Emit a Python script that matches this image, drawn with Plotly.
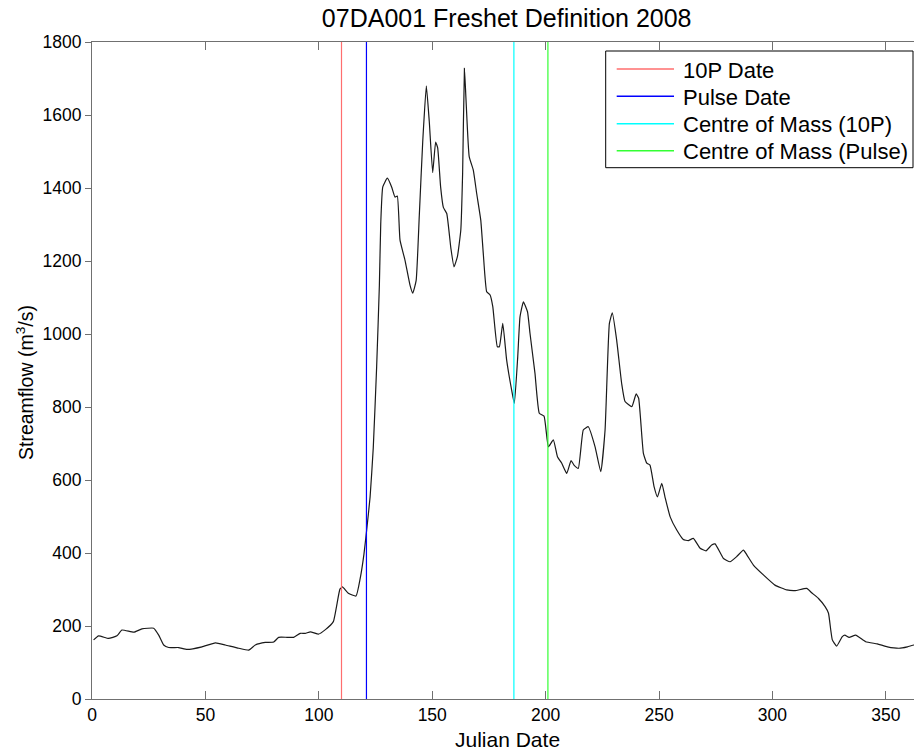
import plotly.graph_objects as go

# Daily streamflow at 07DA001 through 2008 (Julian day, m^3/s)
julian_day = [
    0.7, 2.9, 7.3, 11.0, 13.2, 18.4, 22.0, 27.2, 29.4, 31.6, 33.8, 38.2, 41.9,
    48.5, 54.4, 58.8, 64.7, 69.1, 72.0, 76.4, 80.1, 82.3, 86.0, 88.9, 91.8,
    94.0, 96.3, 100.0, 102.9, 106.4, 109.3, 110.4, 113.0, 116.4, 118.2, 119.9,
    121.1, 122.6, 124.0, 125.5, 126.7, 127.3, 128.2, 130.2, 132.1, 133.6,
    134.6, 135.8, 138.0, 140.2, 141.4, 142.9, 144.3, 145.8, 147.4, 148.7,
    150.2, 151.5, 152.4, 153.7, 154.9, 156.4, 158.2, 159.6, 161.1, 162.6,
    163.4, 164.2, 164.9, 166.3, 168.1, 169.6, 171.4, 172.5, 174.0, 175.5,
    176.7, 178.7, 179.6, 181.1, 182.8, 185.0, 186.2, 187.7, 188.7, 190.2,
    192.0, 193.1, 195.3, 197.2, 199.3, 201.2, 203.4, 205.2, 207.1, 209.3,
    211.2, 212.5, 214.4, 216.6, 218.8, 221.8, 224.3, 226.2, 228.1, 229.4,
    231.3, 233.5, 235.0, 238.0, 239.9, 241.0, 243.1, 244.6, 246.0, 247.8,
    249.3, 251.2, 252.6, 254.9, 257.8, 260.7, 262.9, 265.1, 268.1, 270.7,
    273.2, 274.7, 278.4, 281.3, 284.2, 287.2, 288.7, 291.6, 296.0, 301.1,
    306.3, 310.0, 315.1, 317.3, 320.2, 323.2, 324.7, 325.7, 326.4, 328.3,
    330.8, 331.9, 333.8, 336.7, 341.1, 346.2, 350.7, 355.8, 359.5, 362.4,
    366.0,
]
streamflow = [
    162, 173, 166, 173, 189, 183, 192, 194, 175, 148, 141, 141, 136,
    143, 154, 148, 139, 134, 148, 155, 156, 169, 169, 169, 180,
    180, 184, 178, 190, 212, 301, 307, 290, 282, 329, 397,
    463, 553, 688, 911, 1134, 1302, 1403, 1427, 1403, 1375,
    1378, 1257, 1202, 1134, 1112, 1146, 1325, 1526, 1680, 1582,
    1442, 1526, 1510, 1403, 1347, 1330, 1236, 1184, 1212, 1285,
    1441, 1728, 1641, 1486, 1449, 1385, 1312, 1221, 1116, 1107,
    1075, 965, 965, 1029, 929, 847, 810, 938, 1047, 1088,
    1061, 1002, 892, 783, 775, 691, 710, 664, 646, 618,
    653, 641, 632, 737, 746, 691, 623, 737, 1029, 1058,
    984, 865, 815, 801, 836, 824, 673, 646, 641, 582,
    554, 591, 554, 499, 463, 437, 434, 440, 413, 406,
    422, 425, 385, 376, 390, 408, 395, 367, 340, 312,
    299, 297, 303, 291, 276, 253, 235, 189, 162, 145,
    171, 175, 169, 175, 157, 151, 143, 139, 143, 148,
    150,
]

# Freshet markers (Julian day)
marker_names = ["10P Date", "Pulse Date", "Centre of Mass (10P)", "Centre of Mass (Pulse)"]
marker_days = [110, 121, 186, 201]
marker_colors = ["#ff6e6e", "#0000ff", "#00ffff", "#33ff33"]

y_limits = [0, 1800]
x_limits = [0, 362.4]
x_ticks = [0, 50, 100, 150, 200, 250, 300, 350]
y_ticks = [0, 200, 400, 600, 800, 1000, 1200, 1400, 1600, 1800]

FONT = "Liberation Sans, Arial, sans-serif"
AXIS_COLOR = "#707070"

W, H = 914, 750
PLOT_L, PLOT_R, PLOT_T, PLOT_B = 92, 914, 42, 699


def px_x(px):
    """Horizontal pixel position -> paper fraction."""
    return (px - PLOT_L) / (PLOT_R - PLOT_L)


def px_y(py):
    """Vertical pixel position (from top) -> paper fraction."""
    return (PLOT_B - py) / (PLOT_B - PLOT_T)


fig = go.Figure()

fig.add_trace(go.Scatter(
    x=julian_day, y=streamflow, mode="lines", name="Streamflow",
    line=dict(color="#1a1a1a", width=1.2, shape="spline", smoothing=0.4),
    showlegend=False, hoverinfo="x+y",
))

for name, day, color in zip(marker_names, marker_days, marker_colors):
    fig.add_trace(go.Scatter(
        x=[day, day], y=y_limits, mode="lines", name=name,
        line=dict(color=color, width=1.2), showlegend=False,
    ))

# Boxed key in the upper right, MATLAB style
key_left, key_right, key_top, key_bottom = 605.7, 913, 51, 167.7
key_rows = [69, 96.3, 123.7, 150.7]
key_line = (616.7, 674)
key_text_x = 680.7

shapes = [dict(
    type="rect", xref="paper", yref="paper",
    x0=px_x(key_left), x1=px_x(key_right), y0=px_y(key_bottom), y1=px_y(key_top),
    line=dict(color="black", width=1), fillcolor="white", layer="above",
)]
annotations = []
for name, color, row in zip(marker_names, marker_colors, key_rows):
    shapes.append(dict(
        type="line", xref="paper", yref="paper",
        x0=px_x(key_line[0]), x1=px_x(key_line[1]), y0=px_y(row), y1=px_y(row),
        line=dict(color=color, width=1.5), layer="above",
    ))
    annotations.append(dict(
        text=name, xref="paper", yref="paper",
        x=px_x(key_text_x), y=px_y(row + 1),
        xanchor="left", yanchor="middle", showarrow=False,
        font=dict(family=FONT, size=22, color="black"),
    ))

annotations += [
    dict(
        text="Julian Date", xref="paper", yref="paper",
        x=px_x(507), y=px_y(739),
        xanchor="center", yanchor="middle", showarrow=False,
        font=dict(family=FONT, size=21, color="black"),
    ),
    dict(
        text="Streamflow (m<sup>3</sup>/s)", xref="paper", yref="paper",
        x=px_x(25), y=px_y(383), textangle=-90,
        xanchor="center", yanchor="middle", showarrow=False,
        font=dict(family=FONT, size=19.5, color="black"),
    ),
]

fig.update_layout(
    width=W, height=H,
    margin=dict(l=PLOT_L, r=W - PLOT_R, t=PLOT_T, b=H - PLOT_B),
    paper_bgcolor="white", plot_bgcolor="white",
    font=dict(family=FONT, size=17.5, color="black"),
    title=dict(
        text="07DA001 Freshet Definition 2008",
        font=dict(family=FONT, size=25, color="black"),
        x=506.7 / W, xanchor="center", xref="container",
        y=1 - 18 / H, yanchor="middle",
    ),
    showlegend=False,
    xaxis=dict(
        range=x_limits, tickvals=x_ticks, ticks="inside", ticklen=8,
        tickcolor=AXIS_COLOR, showline=True, linecolor=AXIS_COLOR, linewidth=1,
        mirror="ticks", showgrid=False, zeroline=False,
        tickfont=dict(family=FONT, size=17.5, color="black"),
    ),
    yaxis=dict(
        range=y_limits, tickvals=y_ticks, ticks="outside", ticklen=6,
        tickcolor=AXIS_COLOR, showline=True, linecolor=AXIS_COLOR, linewidth=1,
        mirror=False, showgrid=False, zeroline=False,
        tickfont=dict(family=FONT, size=17.5, color="black"),
    ),
    shapes=shapes,
    annotations=annotations,
)

fig.write_html("out.html")
